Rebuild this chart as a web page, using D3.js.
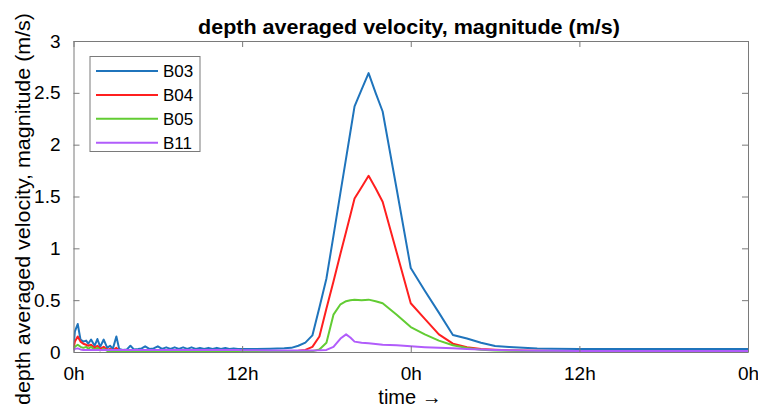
<!DOCTYPE html>
<html><head><meta charset="utf-8">
<script src="https://cdn.jsdelivr.net/npm/d3@7"></script>
<style>body{margin:0;background:#fff}svg{display:block}text{font-family:"Liberation Sans",Arial,sans-serif;fill:#000}</style>
</head><body><svg id="c" width="758" height="407"></svg>
<script>
// time in hours from start
const times = [0,0.1,0.3,0.5,0.7,0.9,1.05,1.25,1.5,1.7,1.9,2.15,2.4,2.6,2.8,3.05,3.25,3.5,3.8,
 4.05,4.3,4.6,4.85,5.1,5.4,5.7,6.0,6.3,6.6,6.9,7.2,7.5,7.8,8.1,8.4,8.7,9.0,9.3,9.6,9.9,10.2,10.5,10.8,11.1,11.4,11.7,
 12,13,14,15,15.5,16,16.5,17,17.5,18,18.5,19,19.4,19.7,20,20.5,21,21.5,22,23,24,25,26,27,28,29,30,31,32,33,34,36,38,40,42,44,46,48];
const B03 = [0.05,0.20,0.27,0.12,0.10,0.11,0.08,0.12,0.06,0.125,0.05,0.12,0.04,0.06,0.03,0.15,0.03,0.02,0.025,
 0.06,0.025,0.03,0.035,0.055,0.03,0.035,0.055,0.03,0.045,0.03,0.045,0.03,0.045,0.03,0.045,0.03,0.04,0.03,0.04,0.03,0.04,0.03,0.038,0.03,0.035,0.03,
 0.03,0.03,0.032,0.035,0.04,0.06,0.09,0.16,0.43,0.71,1.12,1.54,1.87,2.12,2.37,2.53,2.69,2.50,2.32,1.57,0.81,0.59,0.38,0.164,0.13,0.09,0.058,0.048,0.04,0.034,0.032,0.03,0.03,0.029,0.029,0.028,0.028,0.028];
const B04 = [0.03,0.10,0.15,0.10,0.08,0.07,0.06,0.07,0.04,0.06,0.03,0.05,0.02,0.03,0.015,0.04,0.012,0.01,0.01,
 0.01,0.01,0.01,0.01,0.01,0.01,0.01,0.01,0.01,0.01,0.01,0.01,0.01,0.01,0.01,0.01,0.01,0.01,0.01,0.01,0.01,0.01,0.01,0.01,0.01,0.01,0.01,
 0.01,0.01,0.01,0.01,0.01,0.012,0.02,0.05,0.15,0.42,0.68,0.95,1.16,1.32,1.48,1.59,1.70,1.58,1.45,0.96,0.47,0.32,0.17,0.08,0.045,0.03,0.022,0.017,0.014,0.012,0.01,0.01,0.01,0.01,0.01,0.01,0.01,0.01];
const B05 = [0.02,0.05,0.07,0.05,0.04,0.05,0.03,0.05,0.02,0.04,0.015,0.03,0.01,0.01,0.008,0.01,0.006,0.005,0.005,
 0.005,0.005,0.005,0.005,0.005,0.005,0.005,0.005,0.005,0.005,0.005,0.005,0.005,0.005,0.005,0.005,0.005,0.005,0.005,0.005,0.005,0.005,0.005,0.005,0.005,0.005,0.005,
 0.005,0.005,0.005,0.005,0.005,0.005,0.006,0.008,0.025,0.09,0.36,0.46,0.49,0.50,0.505,0.50,0.505,0.49,0.47,0.36,0.24,0.17,0.11,0.065,0.038,0.022,0.015,0.012,0.01,0.008,0.007,0.006,0.006,0.006,0.006,0.006,0.006,0.006];
const B11 = [0.015,0.03,0.035,0.025,0.02,0.02,0.02,0.02,0.02,0.02,0.02,0.02,0.02,0.02,0.02,0.02,0.02,0.02,0.02,
 0.02,0.02,0.02,0.02,0.02,0.02,0.02,0.02,0.02,0.02,0.02,0.02,0.02,0.02,0.02,0.02,0.02,0.02,0.02,0.02,0.02,0.02,0.02,0.02,0.02,0.02,0.02,
 0.018,0.016,0.015,0.015,0.015,0.015,0.015,0.015,0.016,0.02,0.05,0.13,0.17,0.14,0.10,0.09,0.085,0.078,0.07,0.065,0.055,0.047,0.04,0.035,0.03,0.025,0.02,0.016,0.014,0.012,0.011,0.01,0.01,0.01,0.01,0.01,0.01,0.01];
const seriesNames = ["B03","B04","B05","B11"];
const seriesColors = ["#1f74bc","#ff1f1f","#62cc33","#b15cfb"];
const xTickValues = [0,12,24,36,48];
const xTickLabels = ["0h","12h","0h","12h","0h"];
const yTickValues = [0,0.5,1,1.5,2,2.5,3];
const titleText = "depth averaged velocity, magnitude (m/s)";
const yLabelText = "depth averaged velocity, magnitude (m/s)";
const xLabelText = "time \u2192";

const svg = d3.select("#c");
const L=73.5, R=748, T=41, B=352;
const x = d3.scaleLinear().domain([0,48]).range([L,R]);
const y = d3.scaleLinear().domain([0,3]).range([B,T]);
const seriesData = [B03,B04,B05,B11];

svg.append("clipPath").attr("id","clip").append("rect").attr("x",L).attr("y",T).attr("width",R-L).attr("height",B-T);
const line = d3.line().x((d,i)=>x(times[i])).y(d=>y(d));
const g = svg.append("g").attr("clip-path","url(#clip)");
seriesData.forEach((s,k)=>{
  g.append("path").datum(s).attr("d",line).attr("fill","none")
   .attr("stroke",seriesColors[k]).attr("stroke-width",2).attr("stroke-linejoin","round");
});

const axCol="#7a7a7a";
const tk=6;
svg.append("g").attr("transform",`translate(0,${B})`)
  .call(d3.axisBottom(x).tickValues(xTickValues).tickFormat((d,i)=>xTickLabels[i]).tickSizeInner(-tk).tickSizeOuter(0).tickPadding(15))
  .call(a=>{a.select(".domain").attr("stroke",axCol);a.selectAll("line").attr("stroke",axCol);a.selectAll("text").style("font-size","19px").attr("fill","#000");});
svg.append("g").attr("transform",`translate(0,${T})`)
  .call(d3.axisTop(x).tickValues(xTickValues).tickFormat("").tickSizeInner(-tk).tickSizeOuter(0))
  .call(a=>{a.select(".domain").attr("stroke",axCol);a.selectAll("line").attr("stroke",axCol);});
svg.append("g").attr("transform",`translate(${L},0)`)
  .call(d3.axisLeft(y).tickValues(yTickValues).tickFormat(d3.format("")).tickSizeInner(-tk).tickSizeOuter(0).tickPadding(13))
  .call(a=>{a.select(".domain").attr("stroke",axCol);a.selectAll("line").attr("stroke",axCol);a.selectAll("text").style("font-size","19px").attr("fill","#000");});
svg.append("g").attr("transform",`translate(${R},0)`)
  .call(d3.axisRight(y).tickValues(yTickValues).tickFormat("").tickSizeInner(-tk).tickSizeOuter(0))
  .call(a=>{a.select(".domain").attr("stroke",axCol);a.selectAll("line").attr("stroke",axCol);});

// title & labels
svg.append("text").attr("x",409).attr("y",34).attr("text-anchor","middle")
  .attr("textLength",422).attr("lengthAdjust","spacingAndGlyphs")
  .style("font-size","20px").style("font-weight","bold").text(titleText);
svg.append("text").attr("x",410).attr("y",404).attr("text-anchor","middle")
  .style("font-size","20px").text(xLabelText);
svg.append("text").attr("transform",`translate(30,209) rotate(-90)`).attr("text-anchor","middle")
  .attr("textLength",392).attr("lengthAdjust","spacingAndGlyphs")
  .style("font-size","20px").text(yLabelText);

// legend
const lg = svg.append("g");
lg.append("rect").attr("x",90).attr("y",56.5).attr("width",110).attr("height",95)
  .attr("fill","#fff").attr("stroke",axCol).attr("stroke-width",1);
seriesNames.forEach((n,k)=>{
  const yy = 71 + k*23.9;
  lg.append("line").attr("x1",96).attr("x2",158).attr("y1",yy).attr("y2",yy)
    .attr("stroke",seriesColors[k]).attr("stroke-width",2);
  lg.append("text").attr("x",163).attr("y",yy).attr("dy","0.36em").style("font-size","17px").text(n);
});
</script></body></html>
